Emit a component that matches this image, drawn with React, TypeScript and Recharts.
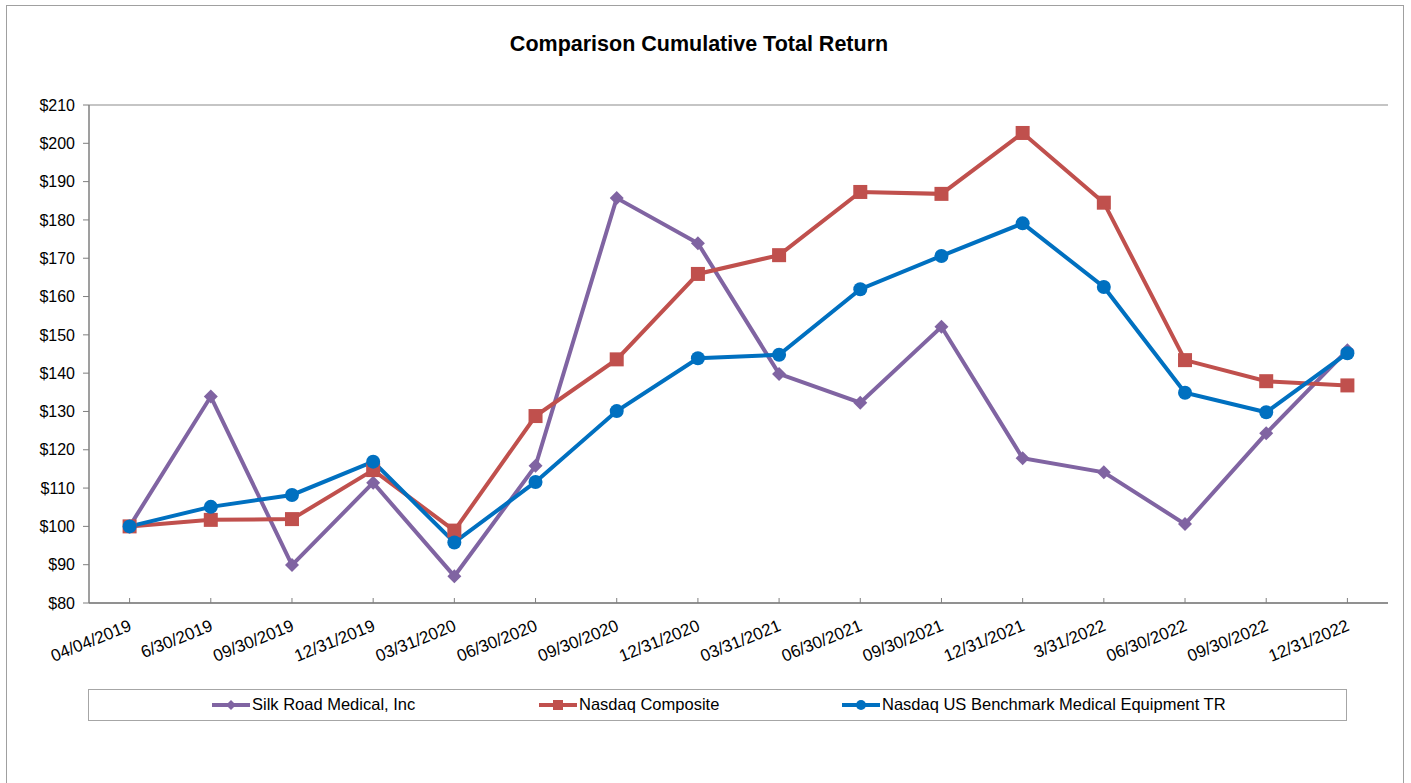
import React from "react";
import {
  CartesianGrid,
  Legend,
  Line,
  LineChart,
  XAxis,
  YAxis,
} from "recharts";

const dates = [
  "04/04/2019", "6/30/2019", "09/30/2019", "12/31/2019", "03/31/2020", "06/30/2020",
  "09/30/2020", "12/31/2020", "03/31/2021", "06/30/2021", "09/30/2021", "12/31/2021",
  "3/31/2022", "06/30/2022", "09/30/2022", "12/31/2022",
];
const silkRoad = [100, 133.9, 89.9, 111.4, 87, 115.8, 185.7, 173.9, 139.8, 132.3, 152.1, 117.8, 114.1, 100.6, 124.3, 146];
const nasdaqComposite = [100, 101.7, 101.9, 114.7, 98.9, 128.8, 143.6, 165.9, 170.8, 187.3, 186.8, 202.7, 184.5, 143.4, 137.9, 136.8];
const medEquipment = [100, 105.1, 108.2, 116.9, 95.8, 111.6, 130.1, 143.9, 144.8, 161.9, 170.6, 179.1, 162.5, 134.9, 129.8, 145.2];
const yTicks = [80, 90, 100, 110, 120, 130, 140, 150, 160, 170, 180, 190, 200, 210];

const seriesNames = [
  "Silk Road Medical, Inc",
  "Nasdaq Composite",
  "Nasdaq US Benchmark Medical Equipment TR",
];

const PURPLE = "#8064A2";
const RED = "#C0504D";
const BLUE = "#0070C0";
const FONT = "'Liberation Sans', Arial, sans-serif";

const data = dates.map((d, i) => ({
  date: d,
  silk: silkRoad[i],
  nasdaq: nasdaqComposite[i],
  med: medEquipment[i],
}));

const Diamond = ({ cx, cy, r = 7, fill }: any) =>
  cx == null ? null : (
    <polygon
      points={`${cx},${cy - r} ${cx + r},${cy} ${cx},${cy + r} ${cx - r},${cy}`}
      fill={fill}
    />
  );
const Square = ({ cx, cy, s = 7, fill }: any) =>
  cx == null ? null : <rect x={cx - s} y={cy - s} width={s * 2} height={s * 2} fill={fill} />;
const Dot = ({ cx, cy, r = 7, fill }: any) =>
  cx == null ? null : <circle cx={cx} cy={cy} r={r} fill={fill} />;

const XTick = ({ x, y, payload }: any) => (
  <g>
    <line x1={x} x2={x} y1={y - 5} y2={y} stroke="#808080" />
    <g transform={`translate(${x + 3},${y + 27})`}>
      <text textAnchor="end" transform="rotate(-22)" fontSize={17} fontFamily={FONT} fill="#000">
        {payload.value}
      </text>
    </g>
  </g>
);

const legendItems = [
  { name: seriesNames[0], color: PURPLE, shape: "diamond", left: 123 },
  { name: seriesNames[1], color: RED, shape: "square", left: 450 },
  { name: seriesNames[2], color: BLUE, shape: "circle", left: 753 },
];

const LegendBox = () => (
  <div
    style={{
      position: "relative",
      width: 1259,
      height: 32,
      border: "1px solid #a6a6a6",
      boxSizing: "border-box",
      background: "#fff",
      fontFamily: FONT,
      fontSize: 16.5,
    }}
  >
    {legendItems.map((it) => (
      <div key={it.name} style={{ position: "absolute", left: it.left, top: 5, display: "flex", alignItems: "center" }}>
        <svg width={38} height={18}>
          <line x1={0} x2={38} y1={9} y2={9} stroke={it.color} strokeWidth={4} />
          {it.shape === "diamond" && <Diamond cx={19} cy={9} r={5} fill={it.color} />}
          {it.shape === "square" && <Square cx={19} cy={9} s={5} fill={it.color} />}
          {it.shape === "circle" && <Dot cx={19} cy={9} r={5} fill={it.color} />}
        </svg>
        <span style={{ marginLeft: 2, color: "#000" }}>{it.name}</span>
      </div>
    ))}
  </div>
);

export default function App() {
  return (
    <div style={{ position: "fixed", left: 0, top: 0, width: 1411, height: 783, background: "#fff", overflow: "hidden" }}>
      <div style={{ position: "absolute", left: 6, top: 5, width: 1398, height: 800, border: "1px solid #a0a0a0", boxSizing: "border-box" }} />
      <div
        style={{
          position: "absolute",
          top: 32,
          left: 0,
          width: 1398,
          textAlign: "center",
          fontFamily: FONT,
          fontWeight: "bold",
          fontSize: 21.5,
        }}
      >
        Comparison Cumulative Total Return
      </div>
      <div style={{ position: "absolute", left: 0, top: 0 }}>
        <LineChart width={1411} height={783} data={data} margin={{ top: 105, right: 23, left: 9, bottom: 48 }}>
          <CartesianGrid horizontal vertical={false} stroke="#8c8c8c" strokeWidth={1.2} />
          <XAxis
            dataKey="date"
            interval={0}
            tickSize={0}
            tickMargin={0}
            tickLine={false}
            tick={<XTick />}
            height={100}
            padding={{ left: 40.6, right: 40.6 }}
            axisLine={{ stroke: "#7f7f7f", strokeWidth: 1.5 }}
          />
          <YAxis
            yAxisId="l"
            domain={[80, 210]}
            ticks={yTicks}
            width={80}
            tickSize={6}
            tickMargin={8}
            tickFormatter={(v) => `$${v}`}
            tick={{ fontSize: 16, fontFamily: FONT, fill: "#000" }}
            tickLine={{ stroke: "#7f7f7f" }}
            axisLine={{ stroke: "#7f7f7f", strokeWidth: 1.5 }}
          />
          <YAxis
            yAxisId="r"
            orientation="right"
            domain={[80, 210]}
            width={0}
            tick={false}
            tickLine={false}
            axisLine={{ stroke: "#8c8c8c", strokeWidth: 1.5 }}
          />
          <Line
            yAxisId="l"
            dataKey="silk"
            name={seriesNames[0]}
            stroke={PURPLE}
            strokeWidth={4}
            dot={<Diamond fill={PURPLE} r={7} />}
            activeDot={false}
            isAnimationActive={false}
          />
          <Line
            yAxisId="l"
            dataKey="nasdaq"
            name={seriesNames[1]}
            stroke={RED}
            strokeWidth={4}
            dot={<Square fill={RED} s={7} />}
            activeDot={false}
            isAnimationActive={false}
          />
          <Line
            yAxisId="l"
            dataKey="med"
            name={seriesNames[2]}
            stroke={BLUE}
            strokeWidth={4}
            dot={<Dot fill={BLUE} r={7} />}
            activeDot={false}
            isAnimationActive={false}
          />
          <Legend
            content={<LegendBox />}
            wrapperStyle={{ position: "absolute", left: 88, top: 689, width: 1259, height: 32, bottom: "auto" }}
          />
        </LineChart>
      </div>
    </div>
  );
}
